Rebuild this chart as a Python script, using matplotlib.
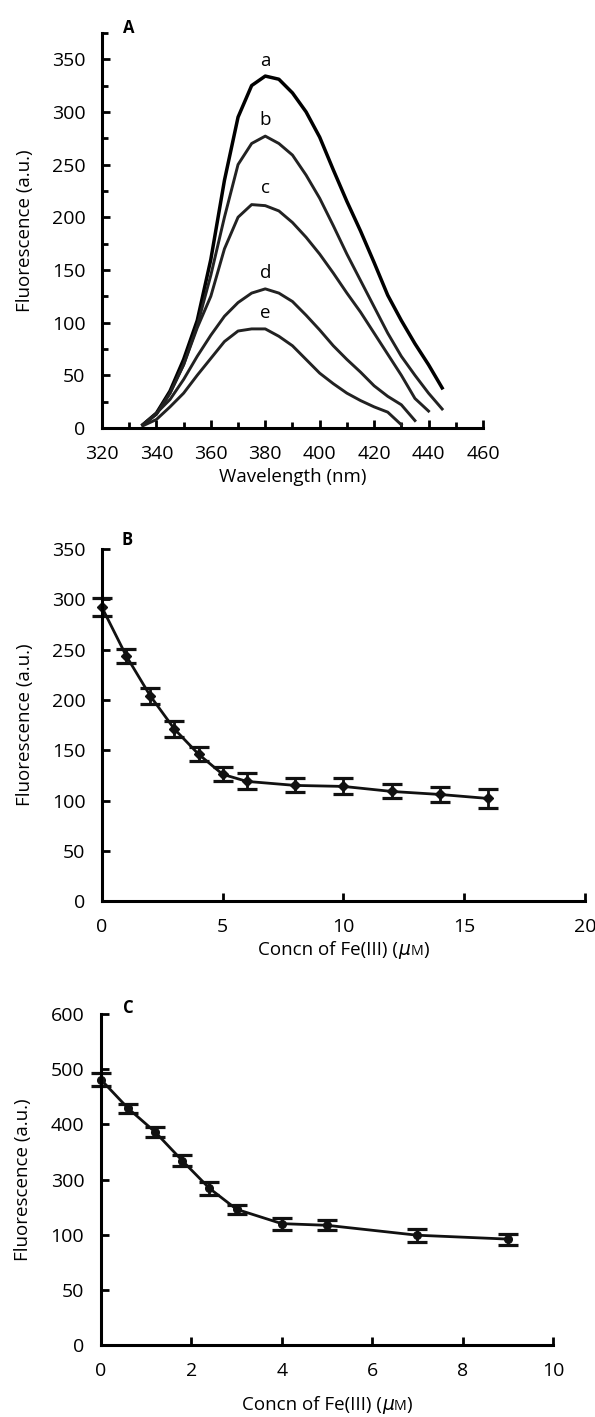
import numpy as np
import matplotlib
matplotlib.use('agg')
import matplotlib.pyplot as plt
from matplotlib.offsetbox import TextArea, HPacker, AnnotationBbox

plt.rcParams['font.family'] = ['Open Sans', 'DejaVu Sans']
plt.rcParams['font.size'] = 13

# Panel A: emission spectra
wl_a = [335, 340, 345, 350, 355, 360, 365, 370, 375, 380, 385, 390, 395, 400, 405, 410, 415, 420, 425, 430, 435, 440, 445]
fl_a = [3, 14, 35, 65, 102, 160, 235, 295, 325, 334, 331, 318, 300, 276, 245, 215, 187, 157, 126, 102, 80, 60, 38]
wl_b = [335, 340, 345, 350, 355, 360, 365, 370, 375, 380, 385, 390, 395, 400, 405, 410, 415, 420, 425, 430, 435, 440, 445]
fl_b = [3, 13, 33, 60, 97, 145, 200, 250, 270, 277, 270, 259, 240, 218, 192, 165, 140, 115, 90, 68, 50, 33, 18]
wl_c = [335, 340, 345, 350, 355, 360, 365, 370, 375, 380, 385, 390, 395, 400, 405, 410, 415, 420, 425, 430, 435, 440]
fl_c = [3, 13, 33, 60, 95, 125, 170, 200, 212, 211, 206, 195, 181, 165, 147, 128, 110, 90, 70, 50, 28, 16]
wl_d = [335, 340, 345, 350, 355, 360, 365, 370, 375, 380, 385, 390, 395, 400, 405, 410, 415, 420, 425, 430, 435]
fl_d = [3, 14, 27, 46, 68, 88, 106, 119, 128, 132, 128, 120, 107, 93, 78, 65, 53, 40, 30, 22, 7]
wl_e = [335, 340, 345, 350, 355, 360, 365, 370, 375, 380, 385, 390, 395, 400, 405, 410, 415, 420, 425, 430]
fl_e = [2, 8, 20, 33, 50, 66, 82, 92, 94, 94, 87, 78, 65, 52, 42, 33, 26, 20, 15, 3]
curve_names = ['a', 'b', 'c', 'd', 'e']
label_y = [348, 292, 228, 147, 109]

# Panel B: Fe(III) titration
conc_b = [0, 1, 2, 3, 4, 5, 6, 8, 10, 12, 14, 16]
fluo_b = [292, 244, 204, 171, 146, 126, 119, 115, 114, 109, 106, 102]
err_b = [9, 7, 8, 8, 7, 7, 8, 7, 8, 7, 7, 9]

# Panel C: Fe(III) titration (axis labelled as in the original)
conc_c = [0, 0.6, 1.2, 1.8, 2.4, 3, 4, 5, 7, 9]
fluo_c = [481, 429, 386, 334, 284, 246, 220, 217, 199, 192]
err_c = [12, 8, 9, 10, 12, 8, 11, 9, 12, 10]
c_ticks = [0, 100, 200, 300, 400, 500, 600]
c_ticklabels = ['0', '50', '100', '300', '400', '500', '600']

FS = 13.5
TFS = 14


def style(ax):
    for s in ['top', 'right']:
        ax.spines[s].set_visible(False)
    for s in ['left', 'bottom']:
        ax.spines[s].set_linewidth(2.2)
    ax.tick_params(direction='in', length=6, width=2, pad=12, labelsize=TFS)
    ax.tick_params(which='minor', direction='in', length=4, width=2)


def conc_label(ax, ypos):
    # "Concn of Fe(III) (µM)" with italic mu and small-cap M
    parts = [TextArea('Concn of Fe(III) (', textprops=dict(fontsize=FS)),
             TextArea('μ', textprops=dict(fontsize=FS, style='italic', family=['DejaVu Sans'])),
             TextArea('M', textprops=dict(fontsize=FS * 0.75)),
             TextArea(')', textprops=dict(fontsize=FS))]
    box = HPacker(children=parts, align='baseline', pad=0, sep=0)
    ab = AnnotationBbox(box, (0.5, ypos), xycoords='axes fraction', frameon=False,
                        box_alignment=(0.5, 0.5), annotation_clip=False)
    ax.add_artist(ab)


fig = plt.figure(figsize=(5.95, 14.17), dpi=100)

# ---- A ----
axA = fig.add_axes([0.1714, 0.698, 0.6403, 0.2788])
lws = [2.5, 2.1, 2.1, 2.1, 2.1]
for (x, y, lw) in zip([wl_a, wl_b, wl_c, wl_d, wl_e], [fl_a, fl_b, fl_c, fl_d, fl_e], lws):
    axA.plot(x, y, color='black' if lw > 2.2 else '#222222', lw=lw)
for name, ly in zip(curve_names, label_y):
    axA.text(380, ly, name, ha='center', va='center', fontsize=FS)
axA.set_xlim(320, 460)
axA.set_ylim(0, 375)
axA.set_xticks(range(320, 461, 20))
axA.set_xticks(range(330, 460, 20), minor=True)
axA.set_yticks(range(0, 351, 50))
axA.set_yticks(range(25, 376, 50), minor=True)
style(axA)
axA.set_xlabel('Wavelength (nm)', fontsize=FS, labelpad=4)
axA.set_ylabel('Fluorescence (a.u.)', fontsize=FS, labelpad=13)
axA.text(0.07, 1.013, 'A', transform=axA.transAxes, fontweight='bold', fontsize=12, ha='center', va='center')

# ---- B ----
axB = fig.add_axes([0.1714, 0.3641, 0.8118, 0.2484])
axB.errorbar(conc_b, fluo_b, yerr=err_b, fmt='-D', color='#111111', lw=2, ms=5.5,
             elinewidth=2, capsize=7.5, capthick=2.3, clip_on=False)
axB.set_xlim(0, 20)
axB.set_ylim(0, 350)
axB.set_xticks(range(0, 21, 5))
axB.set_yticks(range(0, 351, 50))
style(axB)
axB.set_ylabel('Fluorescence (a.u.)', fontsize=FS, labelpad=13)
conc_label(axB, -0.139)
axB.text(0.052, 1.026, 'B', transform=axB.transAxes, fontweight='bold', fontsize=12, ha='center', va='center')

# ---- C ----
axC = fig.add_axes([0.1697, 0.0508, 0.7597, 0.2336])
axC.errorbar(conc_c, fluo_c, yerr=err_c, fmt='-o', color='#111111', lw=2, ms=5.5,
             elinewidth=2, capsize=7.5, capthick=2.3, clip_on=False)
axC.set_xlim(0, 10)
axC.set_ylim(0, 600)
axC.set_xticks(range(0, 11, 2))
axC.set_yticks(c_ticks)
axC.set_yticklabels(c_ticklabels)
style(axC)
axC.set_ylabel('Fluorescence (a.u.)', fontsize=FS, labelpad=13)
conc_label(axC, -0.18)
axC.text(0.06, 1.018, 'C', transform=axC.transAxes, fontweight='bold', fontsize=12, ha='center', va='center')

fig.savefig('out.png', dpi=100)
